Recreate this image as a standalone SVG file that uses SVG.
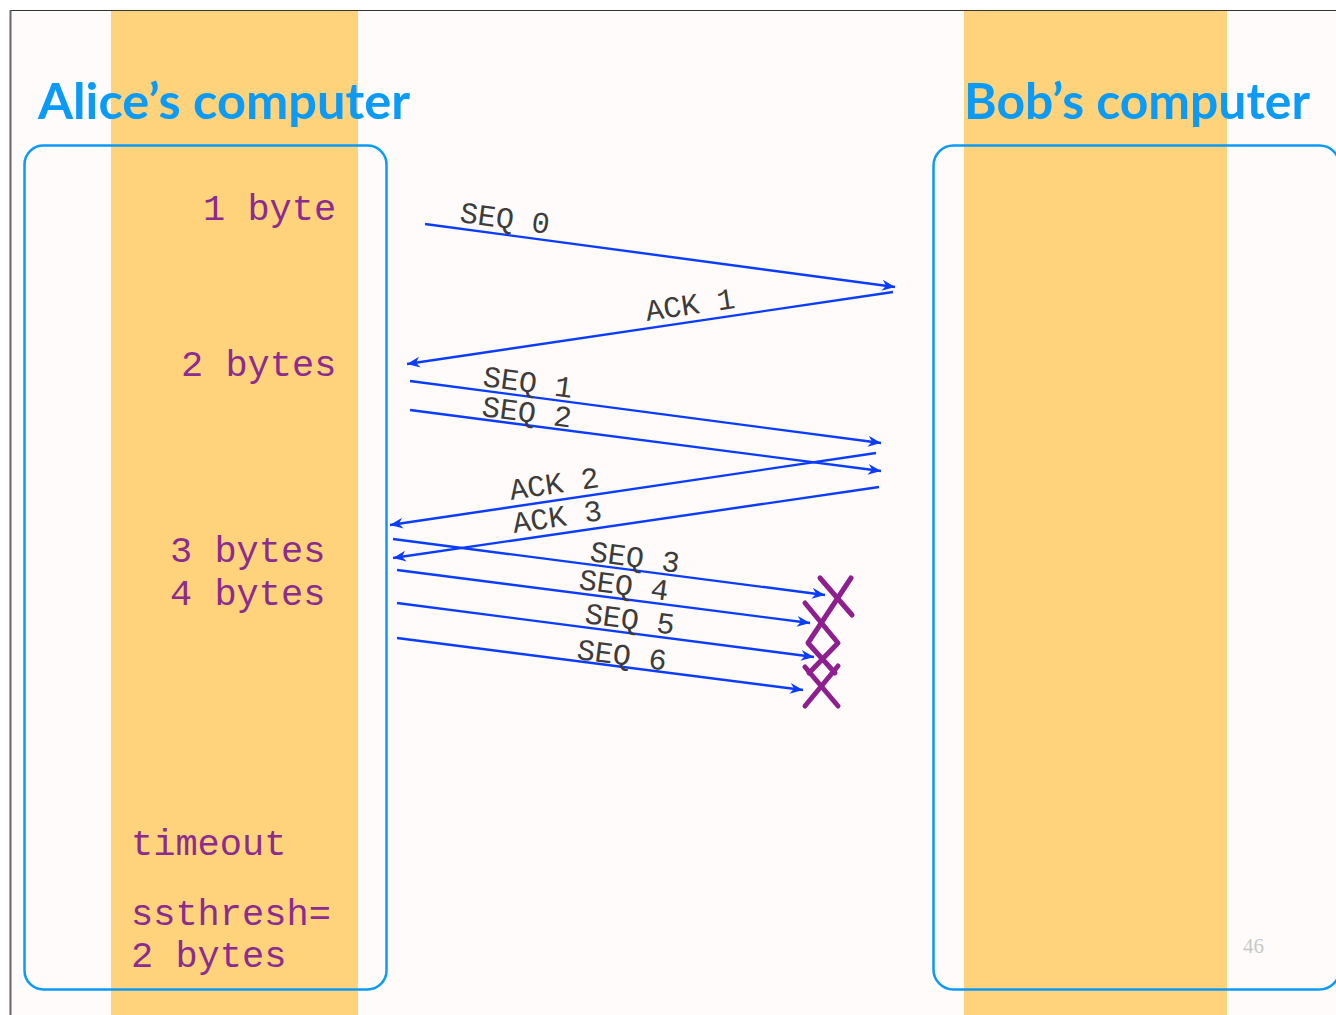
<svg xmlns="http://www.w3.org/2000/svg" width="1336" height="1015" viewBox="0 0 1336 1015">
  <style>
    .title { font-family: "Comic Sans MS", "Lato", "Open Sans", sans-serif; font-size: 50px; font-weight: bold; fill: #0B9BF6; }
    .win { font-family: "Liberation Mono", "Courier New", monospace; font-size: 37px; fill: #8C2C8F; }
    .lbl { font-family: "Liberation Mono", "Courier New", monospace; font-size: 30px; fill: #3C3C3C; }
    .box { fill: none; stroke: #0B9BF6; stroke-width: 2.5; }
    .col { fill: #FED37B; }
    .arr { stroke: #0A3CFF; stroke-width: 2.4; fill: none; marker-end: url(#ah); }
    .x { stroke: #8E1F8F; stroke-width: 5; stroke-linecap: round; stroke-linejoin: round; fill: none; }
  </style>
  <defs>
    <marker id="ah" markerUnits="userSpaceOnUse" markerWidth="14" markerHeight="12" refX="13" refY="6" orient="auto">
      <path d="M0,0.5 L13,6 L0,11.5 L4,6 z" fill="#0A3CFF"/>
    </marker>
  </defs>

  <!-- page background -->
  <rect x="0" y="0" width="1336" height="1015" fill="#FFFFFF"/>
  <rect x="10" y="10" width="1326" height="1005" fill="#FFFBFA"/>
  <line x1="10" y1="10.5" x2="1336" y2="10.5" stroke="#333333" stroke-width="1.2"/>
  <line x1="10.5" y1="10" x2="10.5" y2="1015" stroke="#666666" stroke-width="2"/>

  <!-- columns -->
  <rect class="col" x="111" y="11" width="247" height="1004"/>
  <rect class="col" x="964" y="11" width="263" height="1004"/>

  <g id="alice">
    <rect class="box" x="24.5" y="145.5" width="362" height="844" rx="19"/>
    <text class="title" x="38" y="119" textLength="372" lengthAdjust="spacingAndGlyphs">Alice’s computer</text>
    <text class="win" x="203" y="220">1 byte</text>
    <text class="win" x="181" y="376">2 bytes</text>
    <text class="win" x="170" y="562">3 bytes</text>
    <text class="win" x="170" y="605">4 bytes</text>
    <text class="win" x="131" y="855">timeout</text>
    <text class="win" x="131" y="925">ssthresh=</text>
    <text class="win" x="131" y="967">2 bytes</text>
  </g>

  <g id="bob">
    <rect class="box" x="933.5" y="145.5" width="406" height="844" rx="20"/>
    <text class="title" x="964" y="119" textLength="346" lengthAdjust="spacingAndGlyphs">Bob’s computer</text>
  </g>

  <g id="connectors">
    <line class="arr" x1="425" y1="224" x2="895" y2="287"/>
    <line class="arr" x1="893" y1="292" x2="407" y2="364"/>
    <line class="arr" x1="410" y1="381" x2="881" y2="443"/>
    <line class="arr" x1="410" y1="410" x2="881" y2="471"/>
    <line class="arr" x1="876" y1="453" x2="390" y2="525"/>
    <line class="arr" x1="879" y1="487" x2="393" y2="558"/>
    <line class="arr" x1="393" y1="539" x2="825" y2="595"/>
    <line class="arr" x1="397" y1="570" x2="810" y2="623"/>
    <line class="arr" x1="397" y1="603" x2="814" y2="657"/>
    <line class="arr" x1="397" y1="638" x2="803" y2="690"/>

    <text class="lbl" transform="translate(459,222) rotate(7.6)">SEQ 0</text>
    <text class="lbl" transform="translate(647,321) rotate(-8.4)">ACK 1</text>
    <text class="lbl" transform="translate(482,386) rotate(7.5)">SEQ 1</text>
    <text class="lbl" transform="translate(481,416) rotate(7.4)">SEQ 2</text>
    <text class="lbl" transform="translate(511,500) rotate(-8.4)">ACK 2</text>
    <text class="lbl" transform="translate(514,533) rotate(-8.3)">ACK 3</text>
    <text class="lbl" transform="translate(589,561) rotate(7.5)">SEQ 3</text>
    <text class="lbl" transform="translate(578,589) rotate(7.4)">SEQ 4</text>
    <text class="lbl" transform="translate(584,623) rotate(7.4)">SEQ 5</text>
    <text class="lbl" transform="translate(576,659) rotate(7.3)">SEQ 6</text>
  </g>

  <g id="loss-marks">
    <line class="x" x1="820" y1="578" x2="852" y2="615"/>
    <polyline class="x" points="851,578 808,643 835,673"/>
    <polyline class="x" points="805,603 838,643 809,673"/>
    <line class="x" x1="805" y1="667" x2="838" y2="706"/>
    <line class="x" x1="838" y1="666" x2="805" y2="706"/>
  </g>

  <text x="1243" y="953" font-family="Liberation Serif, serif" font-size="21" fill="#C8C8C8">46</text>
</svg>
